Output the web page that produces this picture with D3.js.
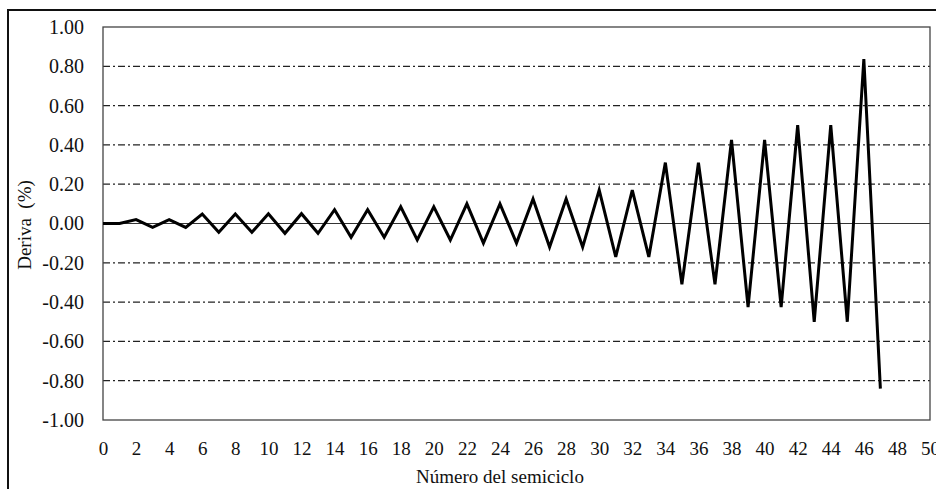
<!DOCTYPE html>
<html><head><meta charset="utf-8">
<script src="https://cdn.jsdelivr.net/npm/d3@7"></script>
<style>body{margin:0;background:#fff;} text{font-family:"Liberation Serif","Times New Roman",serif;}</style>
</head><body>
<svg id="c" width="936" height="489"></svg>
<script>
const semicycles = [0,1,2,3,4,5,6,7,8,9,10,11,12,13,14,15,16,17,18,19,20,21,22,23,24,25,26,27,28,29,30,31,32,33,34,35,36,37,38,39,40,41,42,43,44,45,46,47];
const drift = [0,0,0.02,-0.02,0.02,-0.02,0.048,-0.045,0.048,-0.045,0.05,-0.05,0.05,-0.05,0.07,-0.07,0.07,-0.07,0.085,-0.084,0.085,-0.084,0.10,-0.10,0.10,-0.10,0.125,-0.12,0.125,-0.12,0.17,-0.17,0.17,-0.17,0.31,-0.31,0.31,-0.31,0.425,-0.425,0.425,-0.425,0.50,-0.50,0.50,-0.50,0.837,-0.84];
const yTicks = [1.0,0.8,0.6,0.4,0.2,0,-0.2,-0.4,-0.6,-0.8,-1.0];
const xTicks = [0,2,4,6,8,10,12,14,16,18,20,22,24,26,28,30,32,34,36,38,40,42,44,46,48,50];
const gridVals = [0.8,0.6,0.4,0.2,-0.2,-0.4,-0.6,-0.8];

const svg = d3.select("#c");
const L=103, R=930, T=27, B=420;
const x = d3.scaleLinear().domain([0,50]).range([L,R]);
const y = d3.scaleLinear().domain([-1,1]).range([B,T]);

// outer frame
svg.append("rect").attr("x",8).attr("y",10).attr("width",940).attr("height",500)
  .attr("fill","none").attr("stroke","#111").attr("stroke-width",2);

// gridlines
svg.append("g").selectAll("line").data(gridVals).join("line")
  .attr("x1",L).attr("x2",R).attr("y1",d=>y(d)).attr("y2",d=>y(d))
  .attr("stroke","#222").attr("stroke-width",1.3).attr("stroke-dasharray","7,3,2,3");

// zero line
svg.append("line").attr("x1",L).attr("x2",R).attr("y1",y(0)).attr("y2",y(0))
  .attr("stroke","#333").attr("stroke-width",1.2);

// plot border
svg.append("rect").attr("x",L).attr("y",T).attr("width",R-L).attr("height",B-T)
  .attr("fill","none").attr("stroke","#444").attr("stroke-width",1.3);

// y axis labels
const yAxis = d3.axisLeft(y).tickValues(yTicks).tickSize(0).tickPadding(19).tickFormat(d=>d.toFixed(2));
const gy = svg.append("g").attr("transform",`translate(${L},0)`).call(yAxis);
gy.select(".domain").remove();
gy.selectAll("text").attr("font-size",20).attr("fill","#111").style("font-family","Liberation Serif");

// x axis labels
const xAxis = d3.axisBottom(x).tickValues(xTicks).tickSize(0).tickPadding(22).tickFormat(d3.format("d"));
const gx = svg.append("g").attr("transform",`translate(0,${B})`).call(xAxis);
gx.select(".domain").remove();
gx.selectAll("text").attr("font-size",19).attr("fill","#111").style("font-family","Liberation Serif");

// line
const pts = semicycles.map((s,i)=>[s,drift[i]]);
svg.append("path").datum(pts)
  .attr("d", d3.line().x(d=>x(d[0])).y(d=>y(d[1])))
  .attr("fill","none").attr("stroke","#000").attr("stroke-width",3).attr("stroke-linejoin","miter");

// titles
svg.append("text").attr("x",500).attr("y",483).attr("text-anchor","middle")
  .attr("font-size",19).attr("fill","#111").text("Número del semiciclo");
svg.append("text").attr("transform","translate(31,225) rotate(-90)").attr("text-anchor","middle")
  .attr("font-size",19).attr("fill","#111").attr("xml:space","preserve").text("Deriva  (%)");
</script>
</body></html>
